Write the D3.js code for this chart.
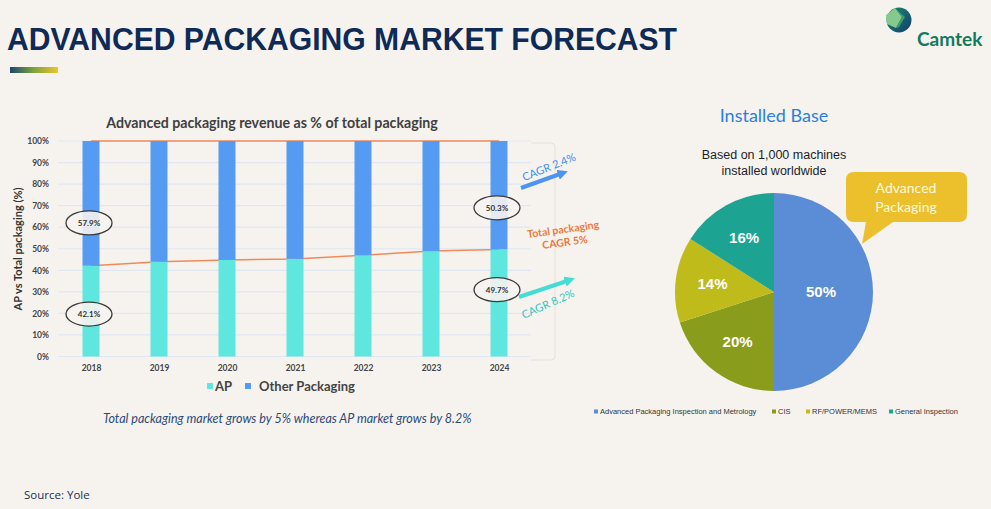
<!DOCTYPE html>
<html>
<head>
<meta charset="utf-8">
<script src="https://cdn.jsdelivr.net/npm/d3@7"></script>
<style>
  html, body { margin: 0; padding: 0; background: #f6f3ef; }
  svg { display: block; }
</style>
</head>
<body>
<div id="chart"></div>
<script>
// bar chart data
const years = ["2018", "2019", "2020", "2021", "2022", "2023", "2024"];
const apShare = [42.1, 44.0, 44.8, 45.3, 47.0, 48.9, 49.7];
const otherShare = [57.9, 56.0, 55.2, 54.7, 53.0, 51.1, 50.3];
const yTicks = [0, 10, 20, 30, 40, 50, 60, 70, 80, 90, 100];
const barLegend = ["AP", "Other Packaging"];

// pie data
const pieLabels = ["Advanced Packaging Inspection and Metrology", "CIS", "RF/POWER/MEMS", "General Inspection"];
const pieValues = [50, 20, 14, 16];

const width = 991, height = 509;
const svg = d3.select("#chart").append("svg")
    .attr("width", width)
    .attr("height", height);

svg.append("rect").attr("width", width).attr("height", height).attr("fill", "#f6f3ef");
const defs = svg.append("defs");

// ---- header ----
svg.append("text")
    .attr("x", 7).attr("y", 50)
    .attr("textLength", 670).attr("lengthAdjust", "spacingAndGlyphs")
    .style("font-family", "'Liberation Sans', Arial, sans-serif")
    .style("font-weight", "bold").style("font-size", "31px")
    .attr("fill", "#0e2a56")
    .text("ADVANCED PACKAGING MARKET FORECAST");

const grad = defs.append("linearGradient").attr("id", "hdr");
grad.append("stop").attr("offset", "0%").attr("stop-color", "#1c466e");
grad.append("stop").attr("offset", "50%").attr("stop-color", "#7ea43a");
grad.append("stop").attr("offset", "100%").attr("stop-color", "#ecc52c");
svg.append("rect").attr("x", 10).attr("y", 67).attr("width", 48).attr("height", 6).attr("fill", "url(#hdr)");

// logo
const lg = defs.append("linearGradient").attr("id", "logo").attr("x1", "0%").attr("y1", "0%").attr("x2", "100%").attr("y2", "100%");
lg.append("stop").attr("offset", "0%").attr("stop-color", "#1e8a6c");
lg.append("stop").attr("offset", "100%").attr("stop-color", "#123e70");
const logo = svg.append("g");
logo.append("circle").attr("cx", 899).attr("cy", 20).attr("r", 12.5).attr("fill", "url(#logo)");
logo.append("path").attr("d", "M886,15 L895,8 L902,17 L896,28 L887,24 Z").attr("fill", "#86c98c");
logo.append("path").attr("d", "M895,8 L902,17 L896,28 L899,27 L905,17 Z").attr("fill", "#3c9c6c");
logo.append("text").attr("x", 917).attr("y", 46)
    .style("font-family", "Lato, sans-serif").style("font-weight", "bold").style("font-size", "19px")
    .attr("fill", "#137a5c").text("Camtek");

// ---- bar chart ----
const x = d3.scalePoint().domain(years).range([57, 533]).padding(0.5);
const y = d3.scaleLinear().domain([0, 100]).range([356.5, 141]);
const barW = 17;
const gridLeft = 58, gridRight = 531;

svg.append("text")
    .attr("x", 272).attr("y", 128).attr("text-anchor", "middle")
    .style("font-family", "Lato, sans-serif").style("font-weight", "bold").style("font-size", "14.2px")
    .attr("fill", "#404040")
    .text("Advanced packaging revenue as % of total packaging");

// faint frame on the right
svg.append("path")
    .attr("d", "M531,143 L551,143 Q555,143 555,147 L555,356 Q555,360 551,360 L531,360")
    .attr("fill", "none").attr("stroke", "#e4e1dc").attr("stroke-width", 1);

svg.append("g")
    .selectAll("line")
    .data(yTicks)
    .join("line")
    .attr("x1", gridLeft).attr("x2", gridRight)
    .attr("y1", d => y(d)).attr("y2", d => y(d))
    .attr("stroke", "#dfe7f3").attr("stroke-width", 1.2);

const yAxis = d3.axisLeft(y).tickValues(yTicks).tickFormat(d => `${d}%`).tickSize(0).tickPadding(8);
svg.append("g")
    .attr("transform", `translate(${gridLeft - 1},0)`)
    .call(yAxis)
    .call(g => g.select(".domain").remove())
    .selectAll("text")
    .attr("fill", "#454545")
    .style("font-family", "Lato, sans-serif").style("font-weight", "bold").style("font-size", "8.5px");

const xAxis = d3.axisBottom(x).tickSize(0).tickPadding(8);
svg.append("g")
    .attr("transform", `translate(0,${y(0)})`)
    .call(xAxis)
    .call(g => g.select(".domain").remove())
    .selectAll("text")
    .attr("fill", "#454545")
    .style("font-family", "Lato, sans-serif").style("font-weight", "bold").style("font-size", "8.5px");

svg.append("text")
    .attr("transform", `translate(22,${249}) rotate(-90)`)
    .attr("text-anchor", "middle")
    .style("font-family", "Lato, sans-serif").style("font-weight", "bold").style("font-size", "11px")
    .attr("fill", "#333")
    .text("AP vs Total packaging (%)");

// orange trend lines (behind bars)
const line = d3.line().x((d, i) => x(years[i])).y(d => y(d));
svg.append("path").datum(apShare).attr("d", line)
    .attr("fill", "none").attr("stroke", "#f08a5a").attr("stroke-width", 1.5);
svg.append("path").datum(years.map(() => 100)).attr("d", line)
    .attr("fill", "none").attr("stroke", "#f08a5a").attr("stroke-width", 1.5);

const bars = svg.append("g");
bars.selectAll(".ap").data(years).join("rect")
    .attr("class", "ap")
    .attr("x", d => x(d) - barW / 2).attr("width", barW)
    .attr("y", (d, i) => y(apShare[i]))
    .attr("height", (d, i) => y(0) - y(apShare[i]))
    .attr("fill", "#5fe6de");
bars.selectAll(".other").data(years).join("rect")
    .attr("class", "other")
    .attr("x", d => x(d) - barW / 2).attr("width", barW)
    .attr("y", (d, i) => y(apShare[i] + otherShare[i]))
    .attr("height", (d, i) => y(apShare[i]) - y(apShare[i] + otherShare[i]))
    .attr("fill", "#559bf2");

// circled values on first and last bars
const circled = [
    { year: years[0], at: 62, text: `${otherShare[0]}%` },
    { year: years[0], at: 19.7, text: `${apShare[0]}%` },
    { year: years[6], at: 69, text: `${otherShare[6]}%` },
    { year: years[6], at: 31, text: `${apShare[6]}%` }
];
const circ = svg.append("g").selectAll("g").data(circled).join("g")
    .attr("transform", d => `translate(${x(d.year) - 2},${y(d.at)})`);
circ.append("ellipse").attr("rx", 23).attr("ry", 12)
    .attr("fill", "#f6f3ef").attr("fill-opacity", 0.9)
    .attr("stroke", "#3a3a3a").attr("stroke-width", 1.3);
circ.append("text").attr("text-anchor", "middle").attr("dy", "0.35em")
    .style("font-family", "Lato, sans-serif").style("font-weight", "bold").style("font-size", "8px")
    .attr("fill", "#333").text(d => d.text);

// CAGR annotations
function arrowHead(id, color) {
    defs.append("marker").attr("id", id)
        .attr("viewBox", "0 0 10 10").attr("refX", 2).attr("refY", 5)
        .attr("markerWidth", 2.6).attr("markerHeight", 2.6).attr("orient", "auto")
        .append("path").attr("d", "M0,0 L10,5 L0,10 Z").attr("fill", color);
}
arrowHead("ah-blue", "#4d93f0");
arrowHead("ah-teal", "#45dcd4");

svg.append("line").attr("x1", 521).attr("y1", 188).attr("x2", 560).attr("y2", 174)
    .attr("stroke", "#4d93f0").attr("stroke-width", 4).attr("marker-end", "url(#ah-blue)");
svg.append("text").attr("transform", "translate(549,167) rotate(-22)")
    .attr("text-anchor", "middle").attr("dy", "0.35em")
    .style("font-family", "Lato, sans-serif").style("font-size", "11px")
    .attr("fill", "#3d8ff0").text("CAGR 2.4%");

svg.append("line").attr("x1", 519).attr("y1", 297).attr("x2", 567).attr("y2", 281)
    .attr("stroke", "#45dcd4").attr("stroke-width", 4).attr("marker-end", "url(#ah-teal)");
svg.append("text").attr("transform", "translate(548,304) rotate(-24)")
    .attr("text-anchor", "middle").attr("dy", "0.35em")
    .style("font-family", "Lato, sans-serif").style("font-size", "11px")
    .attr("fill", "#38c4bc").text("CAGR 8.2%");

const tot = svg.append("g").attr("transform", "translate(564,236) rotate(-8)")
    .style("font-family", "Lato, sans-serif").style("font-weight", "bold").style("font-size", "10.5px")
    .attr("fill", "#f0783a").attr("text-anchor", "middle");
tot.append("text").attr("y", -3).text("Total packaging");
tot.append("text").attr("y", 10).text("CAGR 5%");

// bar legend
const colors = ["#5fe6de", "#559bf2"];
const legX = [207, 245];
const leg = svg.append("g").selectAll("g").data(barLegend).join("g")
    .attr("transform", (d, i) => `translate(${legX[i]},383)`);
leg.append("rect").attr("width", 6).attr("height", 6).attr("fill", (d, i) => colors[i]);
leg.append("text").attr("x", (d, i) => i === 0 ? 8 : 14).attr("y", 8)
    .style("font-family", "Lato, sans-serif").style("font-weight", "bold").style("font-size", "13px")
    .attr("fill", "#444").text(d => d);

svg.append("text").attr("x", 103).attr("y", 423)
    .style("font-family", "Lato, sans-serif").style("font-style", "italic").style("font-size", "12.5px")
    .attr("fill", "#2c4a78")
    .text("Total packaging market grows by 5% whereas AP market grows by 8.2%");

svg.append("text").attr("x", 24).attr("y", 499)
    .style("font-family", "'Open Sans', sans-serif").style("font-size", "11.5px")
    .attr("fill", "#1b2f55").text("Source: Yole");

// ---- pie chart ----
const pieColors = ["#5a8dd6", "#8a9c1c", "#bebb1b", "#1ca392"];
const cx = 774, cy = 292, r = 99;

svg.append("text").attr("x", cx).attr("y", 122).attr("text-anchor", "middle")
    .style("font-family", "Lato, sans-serif").style("font-size", "18px")
    .attr("fill", "#2a7fe0").text("Installed Base");
const sub = svg.append("g").style("font-family", "'Liberation Sans', Arial, sans-serif")
    .style("font-size", "12.5px").attr("fill", "#1b1d2b").attr("text-anchor", "middle");
sub.append("text").attr("x", cx).attr("y", 159).text("Based on 1,000 machines");
sub.append("text").attr("x", cx).attr("y", 175).text("installed worldwide");

const pie = d3.pie().sort(null).value(d => d);
const arcs = pie(pieValues);
const arc = d3.arc().innerRadius(0).outerRadius(r);
const pg = svg.append("g").attr("transform", `translate(${cx},${cy})`);
pg.selectAll("path").data(arcs).join("path")
    .attr("d", arc).attr("fill", (d, i) => pieColors[i]);
pg.selectAll("text").data(arcs).join("text")
    .attr("transform", (d, i) => {
        const lr = i === 0 ? 47 : 62;
        const c = d3.arc().innerRadius(lr).outerRadius(lr).centroid(d);
        return `translate(${c[0]},${c[1]})`;
    })
    .attr("text-anchor", "middle").attr("dy", "0.35em")
    .style("font-family", "'Liberation Sans', Arial, sans-serif").style("font-weight", "bold").style("font-size", "15px")
    .attr("fill", "#fff").text(d => `${d.data}%`);

// callout
svg.append("path")
    .attr("d", "M854,172 L959,172 Q967,172 967,180 L967,214 Q967,222 959,222 L893,222 L862,244 L866,222 L854,222 Q846,222 846,214 L846,180 Q846,172 854,172 Z")
    .attr("fill", "#ebc02c");
const co = svg.append("g").style("font-family", "Lato, 'Open Sans', sans-serif").style("font-size", "14px")
    .attr("fill", "#fff8dc").attr("text-anchor", "middle");
co.append("text").attr("x", 906).attr("y", 193).text("Advanced");
co.append("text").attr("x", 906).attr("y", 212).text("Packaging");

// pie legend
const pieLegX = [594, 772, 806, 889];
const pl = svg.append("g").selectAll("g").data(pieLabels).join("g")
    .attr("transform", (d, i) => `translate(${pieLegX[i]},412)`);
pl.append("rect").attr("y", -2.5).attr("width", 4).attr("height", 4).attr("fill", (d, i) => pieColors[i]);
pl.append("text").attr("x", 6).attr("dy", "0.3em")
    .style("font-family", "'Liberation Sans', Arial, sans-serif").style("font-size", "7.5px")
    .attr("fill", "#333").text(d => d);
</script>
</body>
</html>
